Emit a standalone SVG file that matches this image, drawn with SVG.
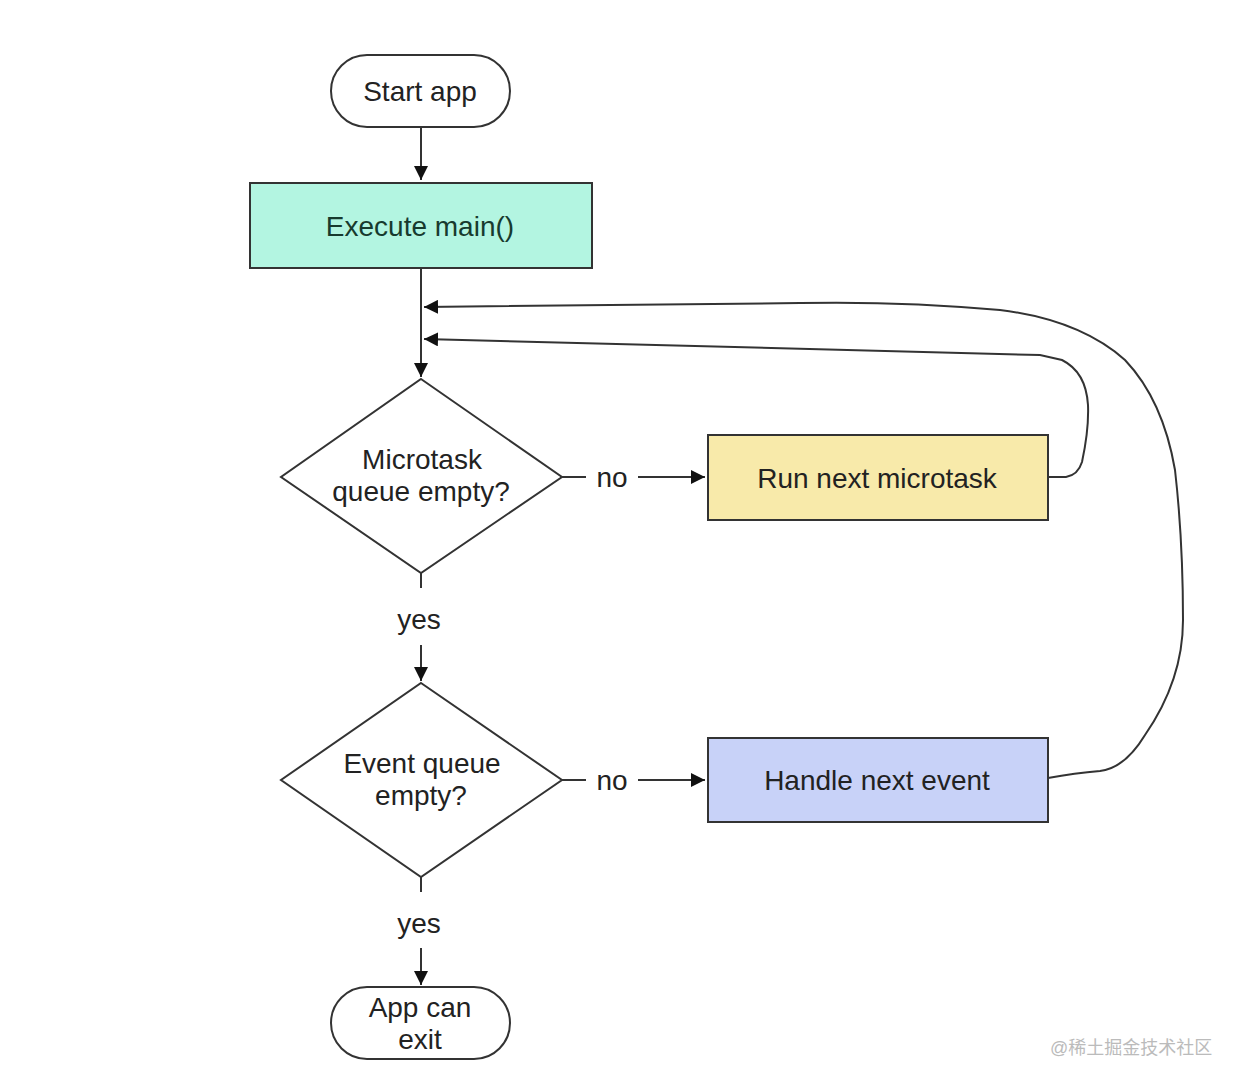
<svg xmlns="http://www.w3.org/2000/svg" width="1240" height="1086" viewBox="0 0 1240 1086">
<defs>
<marker id="ahb" viewBox="0 0 12 12" refX="12" refY="6" markerWidth="14" markerHeight="14" markerUnits="userSpaceOnUse" orient="auto">
<path d="M0,0 L12,6 L0,12 z" fill="#111"/>
</marker>
</defs>
<style>
.t{font-family:"Liberation Sans",Arial,sans-serif;font-size:28px;fill:#222;text-anchor:middle;dominant-baseline:central}
.n{stroke:#333;stroke-width:2}
.c{fill:none;stroke:#333;stroke-width:2}
.w{font-family:"Liberation Sans","Noto Sans CJK SC",sans-serif;font-size:18px;fill:#bbb}
</style>
<rect width="1240" height="1086" fill="#fff"/>
<g id="connectors">
<path class="c" d="M421,127 V180" marker-end="url(#ahb)"/>
<path class="c" d="M421,268 V377" marker-end="url(#ahb)"/>
<path class="c" d="M562,477 H586"/>
<path class="c" d="M638,477 H705" marker-end="url(#ahb)"/>
<path class="c" d="M421,573 V588"/>
<path class="c" d="M421,645 V681" marker-end="url(#ahb)"/>
<path class="c" d="M562,780 H586"/>
<path class="c" d="M638,780 H705" marker-end="url(#ahb)"/>
<path class="c" d="M421,877 V892"/>
<path class="c" d="M421,948 V985" marker-end="url(#ahb)"/>
<path class="c" d="M1048,477 H1066 Q1078,475 1082,462 Q1089,430 1088,405 Q1086,372 1062,360 L1040,355 L424,339" marker-end="url(#ahb)"/>
<path class="c" d="M1048,778 Q1075,773 1100,771 Q1125,768 1145,735 Q1183,680 1183,620 Q1183,540 1175,470 Q1163,400 1125,360 Q1080,320 1000,310 Q900,301 800,303 L424,307" marker-end="url(#ahb)"/>
</g>
<g id="start">
<rect class="n" x="331" y="55" width="179" height="72" rx="36" fill="#fff"/>
<text class="t" x="420" y="91">Start app</text>
</g>
<g id="main">
<rect class="n" x="250" y="183" width="342" height="85" fill="#b3f5e1"/>
<text class="t" x="420" y="226" style="fill:#173a2e">Execute main()</text>
</g>
<g id="microtask-q">
<path class="n" d="M421,379 L562,477 L421,573 L281,477 z" fill="#fff"/>
<text class="t" x="422" y="459">Microtask</text>
<text class="t" x="421" y="491">queue empty?</text>
</g>
<g id="run-microtask">
<rect class="n" x="708" y="435" width="340" height="85" fill="#f8eaaa"/>
<text class="t" x="877" y="478">Run next microtask</text>
</g>
<g id="event-q">
<path class="n" d="M421,683 L562,780 L421,877 L281,780 z" fill="#fff"/>
<text class="t" x="422" y="763">Event queue</text>
<text class="t" x="421" y="795">empty?</text>
</g>
<g id="handle-event">
<rect class="n" x="708" y="738" width="340" height="84" fill="#c8d2f8"/>
<text class="t" x="877" y="780">Handle next event</text>
</g>
<g id="exit">
<rect class="n" x="331" y="987" width="179" height="72" rx="36" fill="#fff"/>
<text class="t" x="420" y="1007">App can</text>
<text class="t" x="420" y="1039">exit</text>
</g>
<g id="labels">
<text class="t" x="612" y="477">no</text>
<text class="t" x="419" y="619">yes</text>
<text class="t" x="612" y="780">no</text>
<text class="t" x="419" y="923">yes</text>
</g>
<text class="w" x="1050" y="1054">@稀土掘金技术社区</text>
</svg>
